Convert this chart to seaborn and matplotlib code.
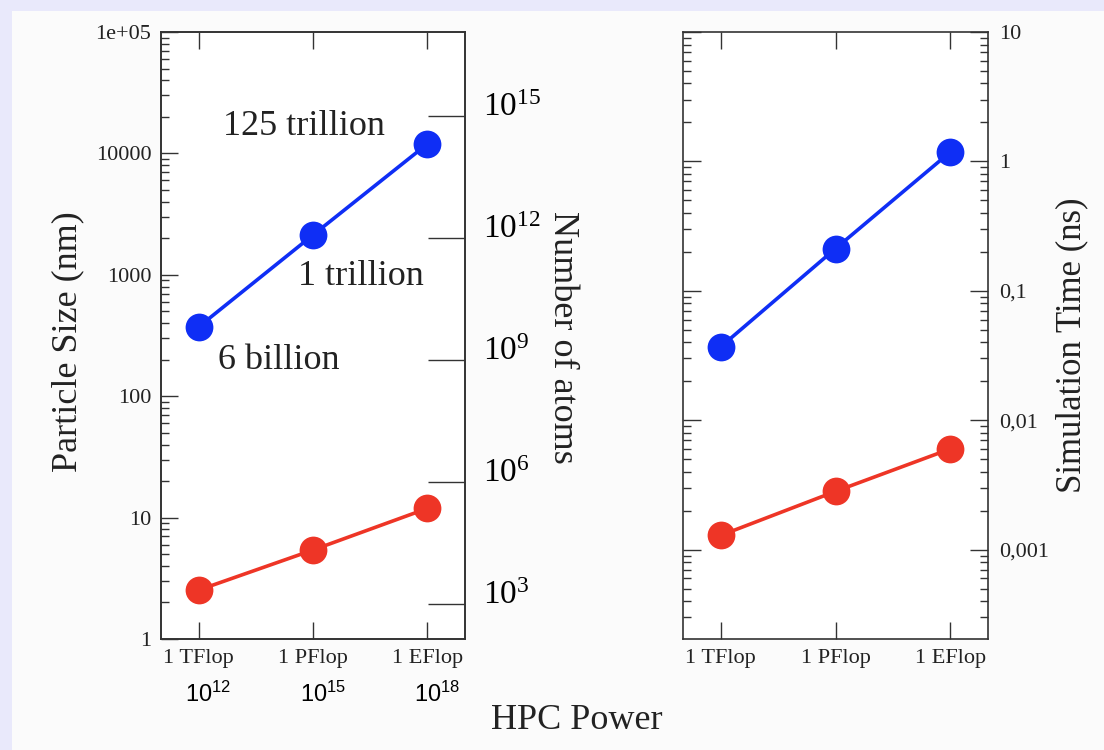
import numpy as np
import pandas as pd
import matplotlib
matplotlib.use("Agg")
import matplotlib.pyplot as plt
import seaborn as sns
from matplotlib.patches import Rectangle
from matplotlib.ticker import LogLocator, NullFormatter

# ---------------- data ----------------
levels = ["1 TFlop", "1 PFlop", "1 EFlop"]
flops_exp = ["12", "15", "18"]
size_large = [373, 2128, 11950]        # blue, particle size (nm)
size_small = [2.53, 5.41, 11.9]        # red, particle size (nm)
time_large = [0.037, 0.212, 1.18]      # blue, simulation time (ns)
time_small = [0.00129, 0.00282, 0.0060]  # red, simulation time (ns)
size_ticks = [1, 10, 100, 1000, 10000, 100000]
size_ticklabels = ["1", "10", "100", "1000", "10000", "1e+05"]
atom_ticks = [1e3, 1e6, 1e9, 1e12, 1e15]
atom_ticklabels = [r"$10^{3}$", r"$10^{6}$", r"$10^{9}$", r"$10^{12}$", r"$10^{15}$"]
time_ticks = [0.001, 0.01, 0.1, 1, 10]
time_ticklabels = ["0,001", "0,01", "0,1", "1", "10"]
atom_notes = ["6 billion", "1 trillion", "125 trillion"]

BLUE = "#0F2EF5"
RED = "#EE3526"
INK = "#222222"

sns.set_style("ticks")
plt.rcParams["font.family"] = ["Liberation Serif", "DejaVu Serif"]
plt.rcParams["mathtext.fontset"] = "custom"
plt.rcParams["mathtext.rm"] = "Liberation Serif"
plt.rcParams["mathtext.it"] = "Liberation Serif:italic"
plt.rcParams["mathtext.sf"] = "Liberation Sans"
plt.rcParams["axes.edgecolor"] = "#333333"
plt.rcParams["xtick.color"] = "#333333"
plt.rcParams["ytick.color"] = "#333333"

df_size = pd.DataFrame({
    "level": levels * 2,
    "value": size_large + size_small,
    "series": ["large"] * 3 + ["small"] * 3,
})
df_time = pd.DataFrame({
    "level": levels * 2,
    "value": time_large + time_small,
    "series": ["large"] * 3 + ["small"] * 3,
})

fig = plt.figure(figsize=(11.04, 7.5), dpi=100)
fig.patch.set_facecolor("#E9E9FB")
fig.add_artist(Rectangle((12 / 1104, 0), 1 - 12 / 1104, 1 - 11 / 750,
                         transform=fig.transFigure, facecolor="#FBFBFB",
                         edgecolor="none", zorder=-10))

ax1 = fig.add_axes([161 / 1104, 1 - 639 / 750, 304 / 1104, 607 / 750])
ax3 = fig.add_axes([683 / 1104, 1 - 639 / 750, 305 / 1104, 607 / 750])

palette = {"large": BLUE, "small": RED}
for ax, df in ((ax1, df_size), (ax3, df_time)):
    ax.set_facecolor("white")
    sns.lineplot(data=df, x="level", y="value", hue="series", palette=palette,
                 marker="o", markersize=20, markeredgewidth=0, linewidth=2.6,
                 legend=False, ax=ax, sort=False)
    ax.set_yscale("log")
    ax.set_xlim(-0.33, 2.33)
    ax.set_xlabel("")
    ax.set_ylabel("")
    for s in ax.spines.values():
        s.set_linewidth(1.2)
        s.set_visible(True)
    ax.tick_params(axis="x", which="major", direction="in", top=True, bottom=True,
                   length=12, width=1.0, labelsize=16, pad=7, labelcolor=INK)
    ax.yaxis.set_minor_locator(LogLocator(base=10, subs=np.arange(2, 10), numticks=20))
    ax.yaxis.set_minor_formatter(NullFormatter())

# ---- left panel ----
ax1.set_ylim(1, 1e5)
ax1.set_yticks(size_ticks, size_ticklabels)
ax1.tick_params(axis="y", which="major", direction="in", left=True, right=False,
                length=12, width=1.0, labelsize=16, pad=7, labelcolor=INK)
ax1.tick_params(axis="y", which="minor", direction="in", left=True, right=False,
                length=6, width=1.0)
ax1.set_ylabel("Particle Size (nm)", fontsize=26, color=INK, va="center")
ax1.yaxis.set_label_coords(-0.305, 0.49)

ax1.text(0.92, 16800, atom_notes[2], fontsize=26, ha="center", va="center", color=INK)
ax1.text(1.415, 977, atom_notes[1], fontsize=26, ha="center", va="center", color=INK)
ax1.text(0.70, 195, atom_notes[0], fontsize=26, ha="center", va="center", color=INK)

for i, e in enumerate(flops_exp):
    ax1.annotate(r"$\mathsf{10^{%s}}$" % e, xy=(i, 0), xycoords=("data", "axes fraction"),
                 xytext=(7, -45), textcoords="offset points", ha="center",
                 va="baseline", fontsize=17, color="black")

ax2 = ax1.twinx()
ax2.set_yscale("log")
ax2.set_ylim(10 ** 2.148, 10 ** 17.056)
ax2.set_yticks(atom_ticks, atom_ticklabels)
ax2.yaxis.set_minor_locator(matplotlib.ticker.NullLocator())
ax2.tick_params(axis="y", which="major", direction="in", right=True, left=False,
                length=27, width=1.0, labelsize=24, pad=13, labelcolor="black")
for lab in ax2.get_yticklabels():
    lab.set_verticalalignment("baseline")
ax2.set_ylabel("Number of atoms", fontsize=26, color=INK, rotation=270, va="center")
ax2.yaxis.set_label_coords(1.32, 0.4975)
for s in ax2.spines.values():
    s.set_linewidth(1.2)

# ---- right panel ----
ax3.set_ylim(2.04e-4, 10)
ax3.set_yticks(time_ticks, time_ticklabels)
ax3.tick_params(axis="y", which="major", direction="in", left=True, right=True,
                labelleft=False, labelright=True, length=13, width=1.0,
                labelsize=16, pad=8, labelcolor=INK)
ax3.tick_params(axis="y", which="minor", direction="in", left=True, right=True,
                length=6, width=1.0)
ax3.yaxis.set_label_position("right")
ax3.set_ylabel("Simulation Time (ns)", fontsize=25, color=INK, rotation=90, va="center")
ax3.yaxis.set_label_coords(1.275, 0.484)

fig.text(577 / 1104, 1 - 729 / 750, "HPC Power", fontsize=26, ha="center",
         va="baseline", color=INK)

fig.savefig("out.png", dpi=100, facecolor=fig.get_facecolor())
